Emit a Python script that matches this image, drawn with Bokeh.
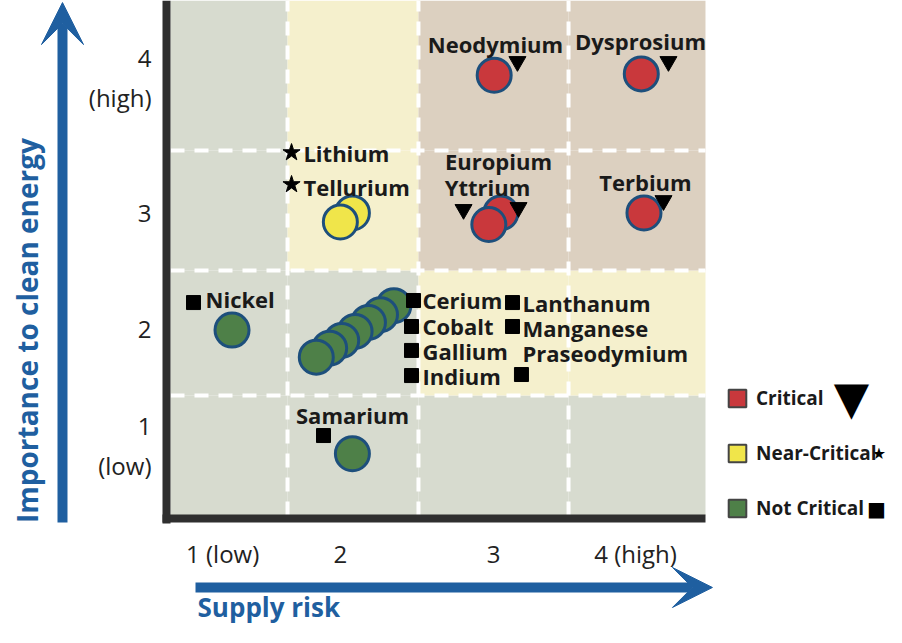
from bokeh.plotting import figure
from bokeh.models import (FixedTicker, Label, Arrow, VeeHead, Legend, LegendItem)
from bokeh.core.properties import value
from bokeh.embed import file_html
from bokeh.resources import INLINE

# ---------------- data ----------------
# zone boundaries (supply risk / importance scales as drawn)
x_bounds = [0.5, 1.375, 2.354, 3.476, 4.5]
y_bounds = [0.5, 1.432, 2.403, 3.335, 4.5]
# zone class per row (bottom->top), per column (left->right)
zone_grid = [
    ["not", "not", "not", "not"],
    ["not", "not", "near", "near"],
    ["not", "near", "crit", "crit"],
    ["not", "near", "crit", "crit"],
]

x_tick_pos = [0.89, 1.77, 2.915, 3.977]
x_tick_labels = ["1 (low)", "2", "3", "4 (high)"]
y_tick_pos = [1.044, 1.952, 2.853, 3.902]
y_tick_labels = ["1\n(low)", "2", "3", "4\n(high)"]

elements = ["Neodymium", "Dysprosium", "Europium", "Yttrium", "Terbium",
            "Lithium", "Tellurium", "Nickel", "Samarium",
            "Praseodymium", "Manganese", "Lanthanum", "Indium", "Gallium",
            "Cobalt", "Cerium"]
status = ["crit", "crit", "crit", "crit", "crit",
          "near", "near", "not", "not",
          "not", "not", "not", "not", "not", "not", "not"]
supply_risk = [2.92, 4.02, 2.97, 2.88, 4.04,
               1.86, 1.77, 0.96, 1.86,
               2.17, 2.07, 1.98, 1.88, 1.78, 1.69, 1.59]
importance = [3.92, 3.93, 2.85, 2.76, 2.85,
              2.85, 2.78, 1.94, 0.98,
              2.13, 2.06, 2.00, 1.93, 1.86, 1.80, 1.73]

# label anchors and symbol anchors for each element
label_x = [2.93, 4.014, 2.952, 2.870, 4.051,
           1.494, 1.494, 0.762, 1.861,
           3.132, 3.132, 3.132, 2.384, 2.384, 2.384, 2.384]
label_y = [4.166, 4.189, 3.257, 3.055, 3.094,
           3.319, 3.055, 2.185, 1.277,
           1.766, 1.960, 2.154, 1.587, 1.774, 1.968, 2.170]
label_align = ["center", "center", "center", "center", "center",
               "left", "left", "left", "center",
               "left", "left", "left", "left", "left", "left", "left"]
sym_x = [3.094, 4.223, 3.102, 2.691, 4.186,
         1.405, 1.405, 0.672, 1.644,
         3.124, 3.057, 3.057, 2.302, 2.302, 2.302, 2.317]
sym_y = [4.026, 4.026, 2.892, 2.877, 2.946,
         3.319, 3.071, 2.154, 1.121,
         1.595, 1.968, 2.154, 1.587, 1.782, 1.968, 2.170]

class_names = {"crit": "Critical", "near": "Near-Critical", "not": "Not Critical"}
zone_colors = {"not": "#d7dbcf", "near": "#f5f0cd", "crit": "#dcd0c0"}
dot_colors = {"crit": "#c9383c", "near": "#f0e54a", "not": "#4e8048"}
markers = {"crit": "inverted_triangle", "near": "star", "not": "square"}
marker_sizes = {"crit": 17, "near": 18, "not": 14}

FONT = "Open Sans"
BLUE = "#1f5fa0"

p = figure(width=886, height=627, x_range=(-0.771, 5.8533), y_range=(-0.3699, 4.5),
           output_backend="svg", toolbar_location=None, min_border=0)
p.outline_line_color = None
p.grid.visible = False
p.background_fill_color = "white"
p.border_fill_color = "white"

# zones
qx0, qx1, qy0, qy1, qc = [], [], [], [], []
for r, row in enumerate(zone_grid):
    for c, cls in enumerate(row):
        qx0.append(x_bounds[c]); qx1.append(x_bounds[c + 1])
        qy0.append(y_bounds[r]); qy1.append(y_bounds[r + 1])
        qc.append(zone_colors[cls])
p.quad(left=qx0, right=qx1, bottom=qy0, top=qy1, fill_color=qc, line_color=None)

# dashed white grid
inner_x = x_bounds[1:-1]
inner_y = y_bounds[1:-1]
p.segment(x0=inner_x, x1=inner_x, y0=[y_bounds[0]] * 3, y1=[y_bounds[-1]] * 3,
          line_color="white", line_width=4, line_dash="14 10")
p.segment(x0=[x_bounds[0]] * 3, x1=[x_bounds[-1]] * 3, y0=inner_y, y1=inner_y,
          line_color="white", line_width=4, line_dash="14 10")

# circles
p.scatter(x=supply_risk, y=importance, size=34, marker="circle",
          fill_color=[dot_colors[s] for s in status],
          line_color="#1d4f7c", line_width=3)

# status symbols
p.scatter(x=sym_x, y=sym_y, marker=[markers[s] for s in status],
          size=[marker_sizes[s] for s in status],
          fill_color="black", line_color="black")

# element labels
p.text(x=label_x, y=label_y, text=elements, text_align=label_align,
       text_baseline="middle", text_font=value(FONT), text_font_style="bold",
       text_font_size="22px", text_color="#1a1a1a")

# axes, fixed at the edges of the matrix
for ax in (p.xaxis, p.yaxis):
    ax.axis_line_width = 8
    ax.axis_line_color = "#2f2f2f"
    ax.major_tick_line_color = None
    ax.minor_tick_line_color = None
    ax.major_tick_in = 0
    ax.major_tick_out = 0
    ax.minor_tick_in = 0
    ax.minor_tick_out = 0
    ax.major_label_text_font = FONT
    ax.major_label_text_font_size = "24px"
    ax.major_label_text_color = "#222222"
p.xaxis.fixed_location = 0.473
p.yaxis.fixed_location = 0.470
p.xaxis.bounds = (0.44, 4.5)
p.yaxis.bounds = (0.44, 4.5)
p.xaxis.ticker = FixedTicker(ticks=x_tick_pos)
p.xaxis.major_label_overrides = dict(zip(x_tick_pos, x_tick_labels))
p.yaxis.ticker = FixedTicker(ticks=y_tick_pos)
p.yaxis.major_label_overrides = dict(zip(y_tick_pos, y_tick_labels))
p.xaxis.major_label_standoff = 18
p.yaxis.major_label_standoff = 15

# axis titles with arrows
p.add_layout(Arrow(end=VeeHead(size=42, fill_color=BLUE, line_color=BLUE),
                   x_start=-0.3075, y_start=0.446, x_end=-0.3075, y_end=4.484,
                   line_color=BLUE, line_width=10))
p.add_layout(Arrow(end=VeeHead(size=40, fill_color=BLUE, line_color=BLUE),
                   x_start=0.687, y_start=-0.059, x_end=4.552, y_end=-0.059,
                   line_color=BLUE, line_width=10))
p.add_layout(Label(x=-0.5766, y=1.937, text="Importance to clean energy", angle=1.5708,
                   text_align="center", text_baseline="middle", text_font=FONT,
                   text_font_style="bold", text_font_size="28px", text_color=BLUE))
p.add_layout(Label(x=0.702, y=-0.207, text="Supply risk", text_align="left",
                   text_baseline="middle", text_font=FONT, text_font_style="bold",
                   text_font_size="26px", text_color=BLUE))

# legend (swatches come from off-view quads so that the legend can draw them)
items = []
for cls in ["crit", "near", "not"]:
    r = p.quad(left=[-5.0], right=[-4.9], bottom=[-5.0], top=[-4.9],
               fill_color=dot_colors[cls], line_color="#444444", line_width=2)
    items.append(LegendItem(label=class_names[cls], renderers=[r]))
legend = Legend(items=items, location=(726, 105), glyph_width=22, glyph_height=22,
                label_height=28, spacing=27, padding=0, margin=0,
                label_standoff=8, border_line_color=None,
                background_fill_alpha=0, label_text_font=FONT,
                label_text_font_style="bold", label_text_font_size="19px",
                label_text_color="#1a1a1a")
p.add_layout(legend)

legend_syms = ["\u25BC", "\u2605", "\u25A0"]
legend_sym_x = [5.592, 5.797, 5.779]
legend_sym_y = [1.4165, 0.982, 0.554]
legend_sym_size = ["46px", "16px", "20px"]
for s, sx, sy, fs in zip(legend_syms, legend_sym_x, legend_sym_y, legend_sym_size):
    p.add_layout(Label(x=sx, y=sy, text=s, text_align="center", text_baseline="middle",
                       text_font="DejaVu Sans", text_font_size=fs, text_color="black"))

open("out.html", "w").write(file_html(p, INLINE))
